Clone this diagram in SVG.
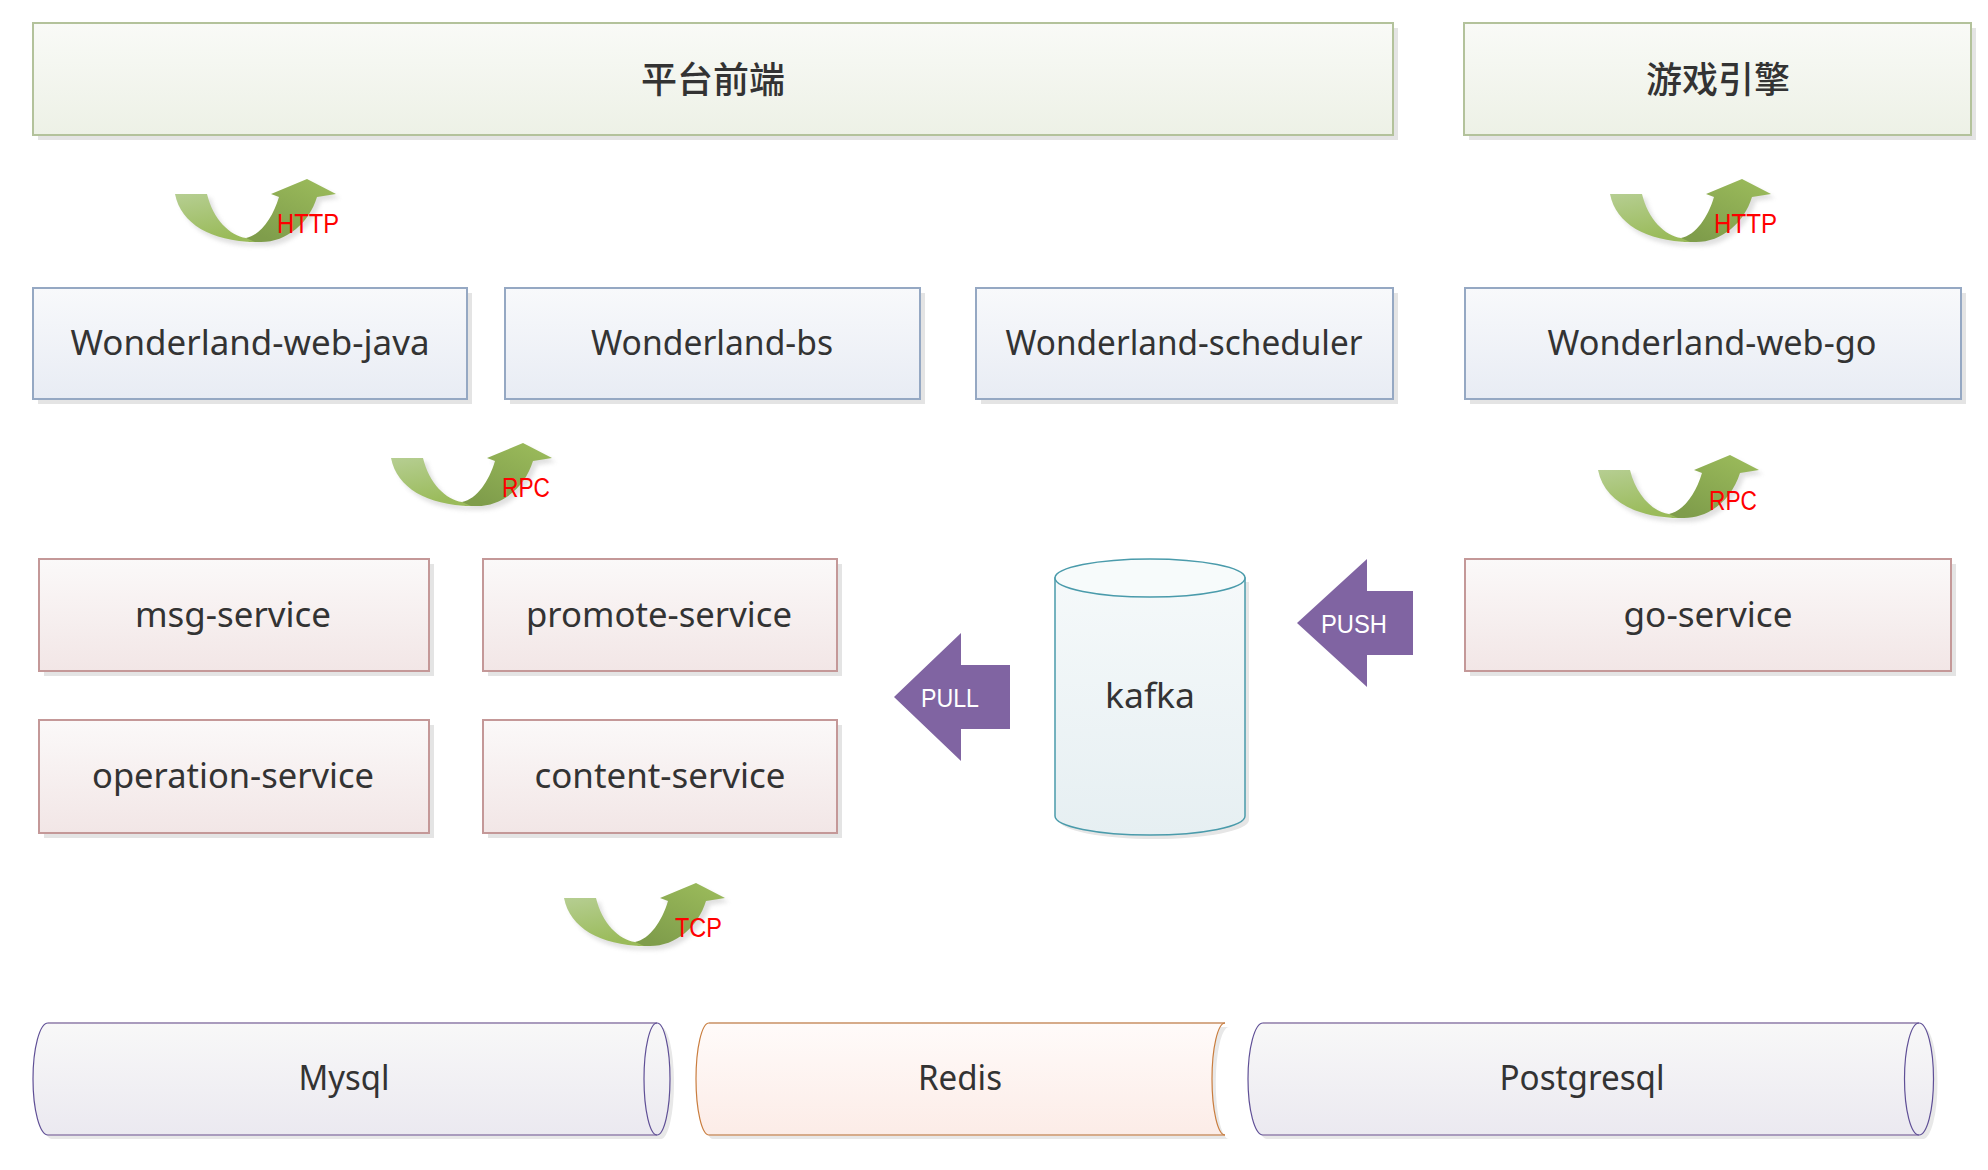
<svg xmlns="http://www.w3.org/2000/svg" xmlns:xlink="http://www.w3.org/1999/xlink" width="1988" height="1170" viewBox="0 0 1988 1170">
<style>
.lbl{font-family:"Noto Sans","Liberation Sans","Noto Sans CJK SC",sans-serif;font-size:35px;fill:#333;text-anchor:middle}
.cjk{font-family:"Noto Sans CJK SC","Noto Sans",sans-serif;font-size:36px;font-weight:500;fill:#333;text-anchor:middle}
.proto{font-family:"Liberation Sans","Noto Sans",sans-serif;font-size:27px;fill:#ff0000}
.arrtxt{font-family:"Liberation Sans","Noto Sans",sans-serif;font-size:25px;fill:#ffffff}
.shadow{fill:#e4e4e4}
.pf{fill:url(#gGreen);stroke:#b3c29b;stroke-width:2}
.wb{fill:url(#gBlue);stroke:#95a8c3;stroke-width:2}
.sv{fill:url(#gRose);stroke:#c49898;stroke-width:2}
.purp{fill:#8064a2}
</style>
<defs>
<linearGradient id="gGreen" x1="0" y1="0" x2="0" y2="1"><stop offset="0" stop-color="#f9faf7"/><stop offset="1" stop-color="#edf1e6"/></linearGradient>
<linearGradient id="gBlue" x1="0" y1="0" x2="0" y2="1"><stop offset="0" stop-color="#f8f9fb"/><stop offset="1" stop-color="#e8ecf4"/></linearGradient>
<linearGradient id="gRose" x1="0" y1="0" x2="0" y2="1"><stop offset="0" stop-color="#fbf9f9"/><stop offset="1" stop-color="#f2e6e6"/></linearGradient>
<linearGradient id="gKafka" x1="0" y1="0" x2="0" y2="1"><stop offset="0" stop-color="#f5f9fa"/><stop offset="1" stop-color="#e6eff2"/></linearGradient>
<linearGradient id="gLav" x1="0" y1="0" x2="0" y2="1"><stop offset="0" stop-color="#f8f8f8"/><stop offset="1" stop-color="#ebe9f0"/></linearGradient>
<linearGradient id="gPeach" x1="0" y1="0" x2="0" y2="1"><stop offset="0" stop-color="#fffbfa"/><stop offset="1" stop-color="#fcece7"/></linearGradient>
<linearGradient id="gArrL" x1="0" y1="0" x2="0.3" y2="1"><stop offset="0" stop-color="#b6ce92"/><stop offset="1" stop-color="#9abb5a"/></linearGradient>
<linearGradient id="gArrD" x1="1" y1="0" x2="0.3" y2="1"><stop offset="0" stop-color="#9dbd5c"/><stop offset="1" stop-color="#7f9d4b"/></linearGradient>
<filter id="blur" x="-10%" y="-10%" width="130%" height="140%"><feGaussianBlur stdDeviation="2"/></filter>
<g id="curveArrow">
<path d="M0,15 L32,15 C38,40 55,57 71,59 C86,56 98,38 104,18 L96,15 L132,0 L161,15 L142,18 C134,44 112,63 86,63 L74,63 C34,62 6,45 0,15 Z" fill="#bbbbbb" opacity="0.45" transform="translate(4,4)" filter="url(#blur)"/>
<path d="M71,59 C86,56 98,38 104,18 L96,15 L132,0 L161,15 L142,18 C134,44 112,63 86,63 L74,63 Z" fill="url(#gArrD)"/>
<path d="M0,15 L32,15 C38,40 55,57 71,59 L80,63 C36,62 6,45 0,15 Z" fill="url(#gArrL)"/>
</g>
</defs>
<rect width="1988" height="1170" fill="#ffffff"/>

<g id="platform-frontend">
<rect class="shadow" x="38" y="28" width="1360" height="112"/>
<rect class="pf" x="33" y="23" width="1360" height="112"/>
<text class="cjk" x="713" y="93">平台前端</text>
</g>
<g id="game-engine">
<rect class="shadow" x="1469" y="28" width="507" height="112"/>
<rect class="pf" x="1464" y="23" width="507" height="112"/>
<text class="cjk" x="1718" y="93">游戏引擎</text>
</g>

<g id="wonderland-web-java">
<rect class="shadow" x="38" y="293" width="434" height="111"/>
<rect class="wb" x="33" y="288" width="434" height="111"/>
<text class="lbl" x="250" y="355" textLength="359" lengthAdjust="spacingAndGlyphs">Wonderland-web-java</text>
</g>
<g id="wonderland-bs">
<rect class="shadow" x="510" y="293" width="415" height="111"/>
<rect class="wb" x="505" y="288" width="415" height="111"/>
<text class="lbl" x="712" y="355" textLength="242" lengthAdjust="spacingAndGlyphs">Wonderland-bs</text>
</g>
<g id="wonderland-scheduler">
<rect class="shadow" x="981" y="293" width="417" height="111"/>
<rect class="wb" x="976" y="288" width="417" height="111"/>
<text class="lbl" x="1184" y="355" textLength="357" lengthAdjust="spacingAndGlyphs">Wonderland-scheduler</text>
</g>
<g id="wonderland-web-go">
<rect class="shadow" x="1470" y="293" width="496" height="111"/>
<rect class="wb" x="1465" y="288" width="496" height="111"/>
<text class="lbl" x="1712" y="355" textLength="329" lengthAdjust="spacingAndGlyphs">Wonderland-web-go</text>
</g>

<g id="msg-service">
<rect class="shadow" x="44" y="564" width="390" height="112"/>
<rect class="sv" x="39" y="559" width="390" height="112"/>
<text class="lbl" x="233" y="627" textLength="196" lengthAdjust="spacingAndGlyphs">msg-service</text>
</g>
<g id="promote-service">
<rect class="shadow" x="488" y="564" width="354" height="112"/>
<rect class="sv" x="483" y="559" width="354" height="112"/>
<text class="lbl" x="659" y="627" textLength="266" lengthAdjust="spacingAndGlyphs">promote-service</text>
</g>
<g id="operation-service">
<rect class="shadow" x="44" y="725" width="390" height="113"/>
<rect class="sv" x="39" y="720" width="390" height="113"/>
<text class="lbl" x="233" y="788" textLength="282" lengthAdjust="spacingAndGlyphs">operation-service</text>
</g>
<g id="content-service">
<rect class="shadow" x="488" y="725" width="354" height="113"/>
<rect class="sv" x="483" y="720" width="354" height="113"/>
<text class="lbl" x="660" y="788" textLength="251" lengthAdjust="spacingAndGlyphs">content-service</text>
</g>
<g id="go-service">
<rect class="shadow" x="1470" y="564" width="486" height="112"/>
<rect class="sv" x="1465" y="559" width="486" height="112"/>
<text class="lbl" x="1708" y="627" textLength="169" lengthAdjust="spacingAndGlyphs">go-service</text>
</g>

<g id="kafka">
<path d="M1059,582 L1059,820 A95,19 0 0 0 1249,820 L1249,582 Z" fill="#e6e6e6"/>
<path d="M1055,578 L1055,816 A95,19 0 0 0 1245,816 L1245,578 Z" fill="url(#gKafka)" stroke="#4a9bab" stroke-width="1.5"/>
<ellipse cx="1150" cy="578" rx="95" ry="19" fill="#f7fbfb" stroke="#4a9bab" stroke-width="1.5"/>
<text class="lbl" x="1150" y="708" textLength="90" lengthAdjust="spacingAndGlyphs">kafka</text>
</g>

<g id="mysql">
<path d="M52,1027 L661,1027 A13,56 0 0 1 661,1139 L52,1139 A15,56 0 0 1 52,1027 Z" fill="#e8e8e8"/>
<path d="M48,1023 L657,1023 A13,56 0 0 1 657,1135 L48,1135 A15,56 0 0 1 48,1023 Z" fill="url(#gLav)"/>
<line x1="48" y1="1023" x2="657" y2="1023" stroke="#a99bbd" stroke-width="2"/>
<line x1="48" y1="1135" x2="657" y2="1135" stroke="#a99bbd" stroke-width="2"/>
<path d="M48,1023 A15,56 0 0 0 48,1135" fill="none" stroke="#5f4f96" stroke-width="1.2"/>
<ellipse cx="657" cy="1079" rx="13" ry="56" fill="none" stroke="#5f4f96" stroke-width="1.2"/>
<text class="lbl" x="344" y="1090" textLength="91" lengthAdjust="spacingAndGlyphs">Mysql</text>
</g>
<g id="redis">
<path d="M713,1027 L1229,1027 A13,55 0 0 0 1229,1139 L713,1139 A13,55 0 0 1 713,1027 Z" fill="#e8e8e8"/>
<path d="M709,1023 L1225,1023 A13,56 0 0 0 1225,1135 L709,1135 A13,56 0 0 1 709,1023 Z" fill="url(#gPeach)"/>
<line x1="709" y1="1023" x2="1225" y2="1023" stroke="#d6ab8a" stroke-width="2"/>
<line x1="709" y1="1135" x2="1225" y2="1135" stroke="#d6ab8a" stroke-width="2"/>
<path d="M709,1023 A13,56 0 0 0 709,1135" fill="none" stroke="#c97d3e" stroke-width="1.2"/>
<path d="M1225,1023 A13,56 0 0 0 1225,1135" fill="none" stroke="#c97d3e" stroke-width="1.2"/>
<text class="lbl" x="960" y="1090" textLength="84" lengthAdjust="spacingAndGlyphs">Redis</text>
</g>
<g id="postgresql">
<path d="M1267,1027 L1923,1027 A14.5,56 0 0 1 1923,1139 L1267,1139 A15,56 0 0 1 1267,1027 Z" fill="#e8e8e8"/>
<path d="M1263,1023 L1919,1023 A14.5,56 0 0 1 1919,1135 L1263,1135 A15,56 0 0 1 1263,1023 Z" fill="url(#gLav)"/>
<line x1="1263" y1="1023" x2="1919" y2="1023" stroke="#a99bbd" stroke-width="2"/>
<line x1="1263" y1="1135" x2="1919" y2="1135" stroke="#a99bbd" stroke-width="2"/>
<path d="M1263,1023 A15,56 0 0 0 1263,1135" fill="none" stroke="#5f4f96" stroke-width="1.2"/>
<ellipse cx="1919" cy="1079" rx="14.5" ry="56" fill="none" stroke="#5f4f96" stroke-width="1.2"/>
<text class="lbl" x="1582" y="1090" textLength="165" lengthAdjust="spacingAndGlyphs">Postgresql</text>
</g>

<g id="connectors">
<use href="#curveArrow" xlink:href="#curveArrow" x="175" y="179"/>
<text class="proto" x="277" y="233" textLength="62" lengthAdjust="spacingAndGlyphs">HTTP</text>
<use href="#curveArrow" xlink:href="#curveArrow" x="1610" y="179"/>
<text class="proto" x="1714" y="233" textLength="63" lengthAdjust="spacingAndGlyphs">HTTP</text>
<use href="#curveArrow" xlink:href="#curveArrow" x="391" y="443"/>
<text class="proto" x="502" y="497" textLength="48" lengthAdjust="spacingAndGlyphs">RPC</text>
<use href="#curveArrow" xlink:href="#curveArrow" x="1598" y="455"/>
<text class="proto" x="1709" y="510" textLength="48" lengthAdjust="spacingAndGlyphs">RPC</text>
<use href="#curveArrow" xlink:href="#curveArrow" x="564" y="883"/>
<text class="proto" x="675" y="937" textLength="47" lengthAdjust="spacingAndGlyphs">TCP</text>
<path class="purp" d="M894,697 L961,633 L961,665 L1010,665 L1010,729 L961,729 L961,761 Z"/>
<text class="arrtxt" x="921" y="707" textLength="58" lengthAdjust="spacingAndGlyphs">PULL</text>
<path class="purp" d="M1297,623 L1367,559 L1367,591 L1413,591 L1413,655 L1367,655 L1367,687 Z"/>
<text class="arrtxt" x="1321" y="633" textLength="66" lengthAdjust="spacingAndGlyphs">PUSH</text>
</g>
</svg>
